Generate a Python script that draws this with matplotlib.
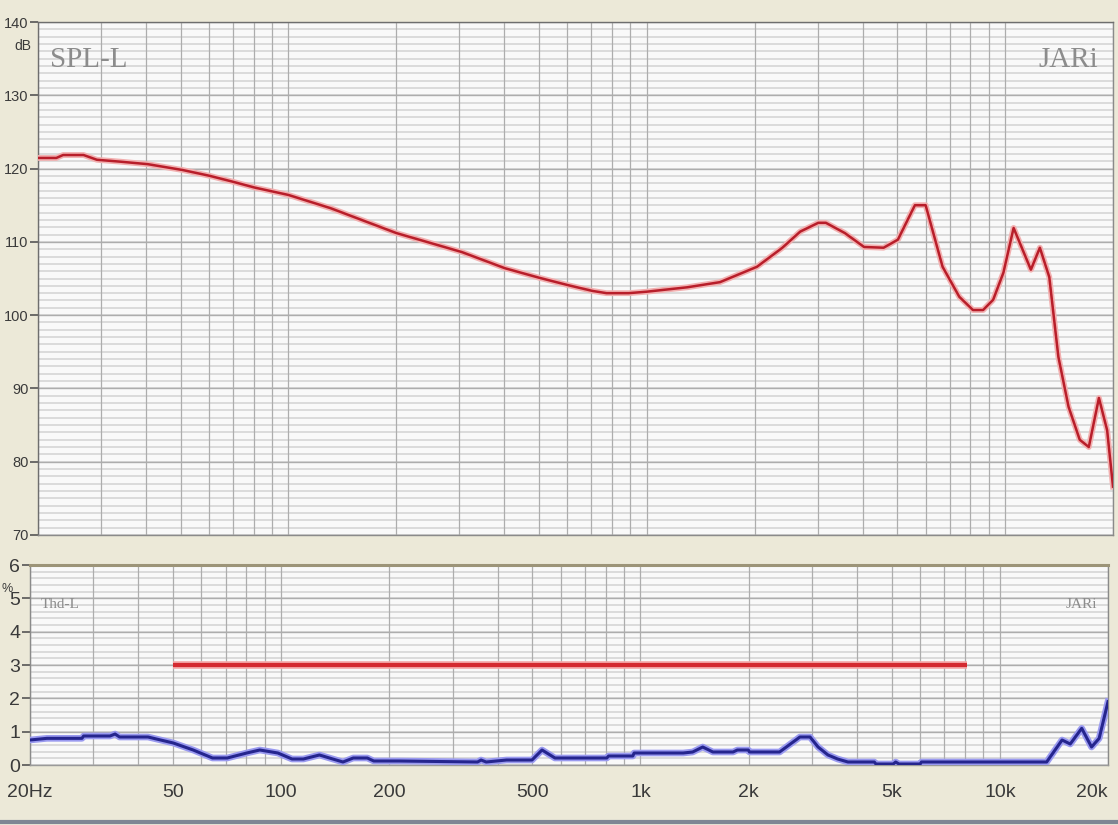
import matplotlib
matplotlib.use("Agg")
import matplotlib.pyplot as plt
from matplotlib.ticker import FixedLocator, NullFormatter
import numpy as np

# ---------------- data ----------------
spl_freq = [20, 22.5, 23.5, 26.8, 29.2, 33.8, 40.5, 50.7, 60.4, 70, 80.6, 100, 131, 200, 305,
            402, 501, 602, 706, 772, 890, 1000, 1296, 1600, 2030, 2390, 2680, 3010, 3160, 3570,
            4040, 4580, 5020, 5600, 6000, 6690, 7450, 8130, 8680, 9260, 9890, 10560, 11800,
            12500, 13280, 14080, 15030, 16150, 17120, 18270, 19260, 20000]
spl_db = [121.45, 121.45, 121.85, 121.85, 121.2, 120.95, 120.6, 119.8, 119.0, 118.2, 117.4,
          116.4, 114.6, 111.2, 108.6, 106.4, 105.1, 104.1, 103.3, 103.0, 103.0, 103.2, 103.8,
          104.5, 106.6, 109.2, 111.4, 112.6, 112.6, 111.2, 109.3, 109.2, 110.3, 115.0, 115.0,
          106.6, 102.5, 100.7, 100.7, 102.1, 105.8, 111.9, 106.2, 109.2, 105.2, 94.3, 87.5,
          83.0, 82.0, 88.7, 84.3, 76.6]

thd_freq = [20, 22.3, 27.9, 28.2, 33.4, 34.5, 35.5, 42.6, 50.1, 56.9, 64.4, 70.8, 80.2, 87.2,
            97.9, 107.2, 115.3, 127.8, 139.2, 148.6, 158.7, 173.7, 181, 213, 352, 360, 372, 424,
            499, 532, 578, 806, 815, 952, 960, 1315, 1397, 1490, 1590, 1810, 1860, 1996, 2010,
            2438, 2777, 2964, 3120, 3325, 3537, 3779, 4474, 4520, 5050, 5130, 5240, 6003, 6050,
            13500, 14900, 15700, 16900, 18000, 18900, 20000]
thd_pct = [0.75, 0.8, 0.8, 0.87, 0.87, 0.93, 0.84, 0.84, 0.66, 0.45, 0.21, 0.21, 0.36, 0.45,
           0.36, 0.18, 0.18, 0.30, 0.18, 0.09, 0.21, 0.21, 0.12, 0.12, 0.09, 0.15, 0.09, 0.15,
           0.15, 0.45, 0.21, 0.21, 0.27, 0.27, 0.36, 0.36, 0.39, 0.54, 0.39, 0.39, 0.45, 0.45,
           0.39, 0.39, 0.84, 0.84, 0.54, 0.30, 0.18, 0.09, 0.09, 0.03, 0.03, 0.09, 0.03, 0.03,
           0.09, 0.09, 0.75, 0.63, 1.1, 0.54, 0.8, 1.9]

limit_freq = [50, 8100]
limit_pct = [3, 3]

x_tick_vals = [20, 50, 100, 200, 500, 1000, 2000, 5000, 10000, 20000]
x_tick_labels = ["20Hz", "50", "100", "200", "500", "1k", "2k", "5k", "10k", "20k"]
spl_ticks = [70, 80, 90, 100, 110, 120, 130, 140]
thd_ticks = [0, 1, 2, 3, 4, 5, 6]

# ---------------- style ----------------
W, H = 1118, 825
BG = "#ECE9D8"
FACE = "#F9F9F9"
NARROW = ["Liberation Sans", "DejaVu Sans"]
SERIF = ["Liberation Serif", "DejaVu Serif"]
TXT = "#3A3A3A"

fig = plt.figure(figsize=(W / 100, H / 100), dpi=100, facecolor=BG)


def frac(x0, y0, x1, y1):
    return [x0 / W, 1 - y1 / H, (x1 - x0) / W, (y1 - y0) / H]


minor_x = [m * 10 ** e for e in range(1, 5) for m in range(1, 10)]
minor_x = [v for v in minor_x if 20 <= v <= 20000]


def style_axes(ax, ymin, ymax, ystep_minor, ymajor):
    ax.set_xscale("log")
    ax.set_xlim(20, 20000)
    ax.set_ylim(ymin, ymax)
    ax.set_facecolor(FACE)
    for v in np.arange(ymin, ymax + 1e-9, ystep_minor):
        ax.axhline(v, color="#D8D8D8", lw=1.3, zorder=0.5)
    for v in ymajor:
        ax.axhline(v, color="#ADADAD", lw=1.0, zorder=0.6)
    for v in minor_x:
        ax.axvline(v, color="#ADADAD", lw=0.9, zorder=0.7)
    for s in ax.spines.values():
        s.set_color("#8A8A8A")
        s.set_linewidth(1.0)


# ---------------- top panel ----------------
ax1 = fig.add_axes(frac(38, 22, 1113, 535))
style_axes(ax1, 70, 140, 1, spl_ticks)
ax1.plot(spl_freq, spl_db, color="#F2B0B0", lw=4.2, zorder=3, solid_joinstyle="round")
ax1.plot(spl_freq, spl_db, color="#B81E2A", lw=1.8, zorder=4, solid_joinstyle="round")
ax1.set_yticks(spl_ticks)
ax1.set_yticklabels([str(v) for v in spl_ticks], family=NARROW, fontsize=10.5, color=TXT)
ax1.tick_params(axis="y", length=6, width=1.2, color="#555555", pad=1)
ax1.xaxis.set_major_locator(FixedLocator([]))
ax1.xaxis.set_minor_locator(FixedLocator([]))
ax1.tick_params(axis="x", length=0, labelbottom=False)
ax1.spines["top"].set_color("#6E6E6E")
ax1.spines["left"].set_color("#6E6E6E")
ax1.text(0.011, 0.925, "SPL-L", transform=ax1.transAxes, family=SERIF, fontsize=21,
         color="#8C8C8C", ha="left", va="center")
ax1.text(0.986, 0.925, "JARi", transform=ax1.transAxes, family=SERIF, fontsize=21,
         color="#8C8C8C", ha="right", va="center")
fig.text(14 / W, 1 - 46 / H, "dB", family=NARROW, fontsize=10, color=TXT,
         ha="left", va="center")

# ---------------- bottom panel ----------------
ax2 = fig.add_axes(frac(30, 565, 1108, 765))
style_axes(ax2, 0, 6, 0.2, thd_ticks)
ax2.plot(limit_freq, limit_pct, color="#F4A8A8", lw=5.5, zorder=3, solid_capstyle="butt")
ax2.plot(limit_freq, limit_pct, color="#D42A30", lw=3.0, zorder=4, solid_capstyle="butt")
ax2.plot(thd_freq, thd_pct, color="#9A9AF0", lw=4.8, zorder=3, solid_joinstyle="round")
ax2.plot(thd_freq, thd_pct, color="#25258E", lw=2.2, zorder=4, solid_joinstyle="round")
ax2.set_yticks(thd_ticks)
ax2.set_yticklabels([str(v) for v in thd_ticks], family=NARROW, fontsize=14, color=TXT)
ax2.tick_params(axis="y", length=6, width=1.2, color="#555555", pad=1)
ax2.xaxis.set_major_locator(FixedLocator(x_tick_vals))
ax2.xaxis.set_major_formatter(plt.FixedFormatter(x_tick_labels))
ax2.xaxis.set_minor_locator(FixedLocator([20, 100, 1000, 10000, 20000]))
ax2.xaxis.set_minor_formatter(NullFormatter())
ax2.tick_params(axis="x", which="major", length=0, pad=14, labelsize=14, labelcolor=TXT)
ax2.tick_params(axis="x", which="minor", length=13, width=1.2, color="#555555")
xlabs = ax2.get_xticklabels()
for lab in xlabs:
    lab.set_family(NARROW)
xlabs[-1].set_horizontalalignment("right")
ax2.spines["top"].set_color("#9C9478")
ax2.spines["top"].set_linewidth(2.2)
ax2.spines["bottom"].set_color("#9A9A9A")
ax2.text(0.01, 0.80, "Thd-L", transform=ax2.transAxes, family=SERIF, fontsize=11,
         color="#8C8C8C", ha="left", va="center")
ax2.text(0.99, 0.80, "JARi", transform=ax2.transAxes, family=SERIF, fontsize=11,
         color="#8C8C8C", ha="right", va="center")
fig.text(1 / W, 1 - 589 / H, "%", family=NARROW, fontsize=9, color=TXT,
         ha="left", va="center")

# bottom border strip
fig.add_artist(plt.Line2D([0, 1], [1 - 822 / H, 1 - 822 / H], color="#7E8694", lw=3))

fig.savefig("out.png", dpi=100, facecolor=BG)
